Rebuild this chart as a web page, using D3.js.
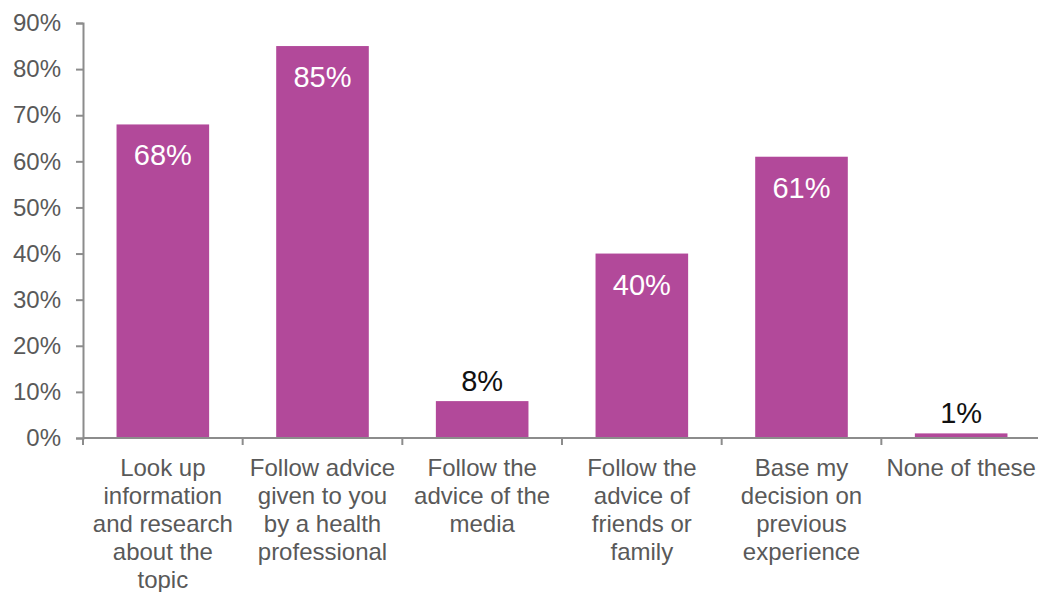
<!DOCTYPE html>
<html>
<head>
<meta charset="utf-8">
<script src="https://cdn.jsdelivr.net/npm/d3@7"></script>
<style>
  html, body { margin: 0; padding: 0; background: #fff; }
  svg { display: block; font-family: "Liberation Sans", Arial, sans-serif; }
</style>
</head>
<body>
<svg id="chart" width="1038" height="592"></svg>
<script>
// Survey answers: how people make health decisions
const categories = [
  ["Look up", "information", "and research", "about the", "topic"],
  ["Follow advice", "given to you", "by a health", "professional"],
  ["Follow the", "advice of the", "media"],
  ["Follow the", "advice of", "friends or", "family"],
  ["Base my", "decision on", "previous", "experience"],
  ["None of these"]
];
const values = [68, 85, 8, 40, 61, 1];
const yTicks = [0, 10, 20, 30, 40, 50, 60, 70, 80, 90];

const svg = d3.select("#chart");
const plotLeft = 83, plotRight = 1041, plotTop = 23, plotBottom = 438;

const keys = categories.map((c, i) => i);
const x = d3.scaleBand().domain(keys).range([plotLeft, plotRight])
  .paddingInner(0.42).paddingOuter(0.21);
const y = d3.scaleLinear().domain([0, 90]).range([plotBottom, plotTop]);

const barColor = "#b2499a";
const axisColor = "#8c8c8c";
const textColor = "#595959";

// Bars
svg.append("g").selectAll("rect").data(values).join("rect")
  .attr("x", (d, i) => x(i))
  .attr("y", d => y(d))
  .attr("width", x.bandwidth())
  .attr("height", d => y(0) - y(d))
  .attr("fill", barColor);

// Y axis
const yAxis = svg.append("g").attr("transform", `translate(${plotLeft},0)`)
  .call(d3.axisLeft(y).tickValues(yTicks).tickSize(7).tickPadding(15)
    .tickFormat(d => d + "%"));
yAxis.select(".domain").attr("stroke", axisColor).attr("stroke-width", 2);
yAxis.selectAll(".tick line").attr("stroke", axisColor).attr("stroke-width", 2);
yAxis.selectAll(".tick text").attr("fill", textColor)
  .style("font-size", "24px").style("font-family", "Liberation Sans, Arial, sans-serif");

// X axis baseline with ticks at band boundaries
const xg = svg.append("g");
xg.append("line").attr("x1", plotLeft).attr("x2", plotRight)
  .attr("y1", y(0)).attr("y2", y(0))
  .attr("stroke", axisColor).attr("stroke-width", 2);
const boundaries = keys.map(i => x(i) - x.step() * x.paddingOuter()).concat([plotRight]);
xg.selectAll("line.tk").data(boundaries).join("line").attr("class", "tk")
  .attr("x1", d => d).attr("x2", d => d)
  .attr("y1", y(0)).attr("y2", y(0) + 7)
  .attr("stroke", axisColor).attr("stroke-width", 2);

// Category labels
const lab = svg.append("g").selectAll("text").data(categories).join("text")
  .attr("text-anchor", "middle")
  .attr("fill", textColor)
  .style("font-size", "24px");
lab.each(function(lines, i) {
  const cx = x(i) + x.bandwidth() / 2;
  d3.select(this).selectAll("tspan").data(lines).join("tspan")
    .attr("x", cx)
    .attr("y", (d, j) => 476 + j * 28)
    .text(d => d);
});

// Value labels: inside tall bars, above short ones
svg.append("g").selectAll("text").data(values).join("text")
  .attr("text-anchor", "middle")
  .attr("x", (d, i) => x(i) + x.bandwidth() / 2)
  .attr("y", d => d > 20 ? y(d) + 41 : y(d) - 10)
  .attr("fill", d => d > 20 ? "#ffffff" : "#111111")
  .style("font-size", "29px")
  .text(d => d + "%");
</script>
</body>
</html>
